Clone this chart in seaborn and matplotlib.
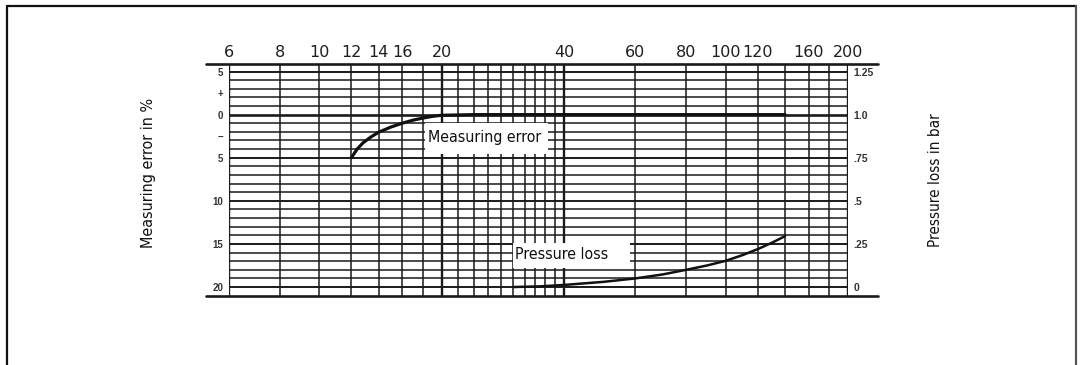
import matplotlib
matplotlib.use("Agg")
import matplotlib.pyplot as plt
import numpy as np
import pandas as pd
import seaborn as sns
from matplotlib import font_manager
from matplotlib.font_manager import FontProperties
from matplotlib.lines import Line2D
from matplotlib.patches import Rectangle

# Flow axis (log scale): labelled ticks and ruled grid positions
flow_ticks = [6, 8, 10, 12, 14, 16, 20, 40, 60, 80, 100, 120, 160, 200]
flow_grid = [6, 8, 10, 12, 14, 16, 18, 20, 22, 24, 26, 28, 30, 32, 34, 36, 38,
             40, 60, 80, 100, 120, 140, 160, 180, 200]

# Left axis: measuring error in %, drawn with + above and - below zero
error_ticks = [5, 2.5, 0, -2.5, -5, -10, -15, -20]
error_tick_labels = ["5", "+", "0", "\u2212", "5", "10", "15", "20"]
error_grid = list(range(-20, 6))

# Right axis: pressure loss in bar
loss_ticks = [1.25, 1.0, 0.75, 0.5, 0.25, 0.0]
loss_tick_labels = ["1.25", "1.0", ".75", ".5", ".25", "0"]

# Measuring error curve
err_flow = [12, 12.4, 12.8, 13.4, 14, 15, 16, 17, 18, 19, 20, 24, 40, 80, 140]
err_value = [-5.0, -4.0, -3.3, -2.6, -2.05, -1.45, -1.0, -0.65, -0.4, -0.2,
             -0.08, 0.0, 0.0, 0.0, 0.0]

# Pressure loss curve
loss_flow = [30, 35, 40, 50, 60, 70, 80, 90, 100, 110, 120, 130, 140]
loss_value = [0.0, 0.004, 0.012, 0.03, 0.05, 0.073, 0.1, 0.125, 0.152, 0.185,
              0.22, 0.257, 0.295]

sns.set_theme(style="white")
plt.rcParams["font.family"] = ["Liberation Sans", "DejaVu Sans"]


def condensed_font():
    """Pick a regular-weight condensed/narrow face if one is installed."""
    picks = []
    for f in font_manager.fontManager.ttflist:
        tag = (f.name + " " + str(f.stretch)).lower()
        if ("narrow" in tag or "condensed" in tag) and f.style == "normal":
            w = f.weight if isinstance(f.weight, int) else 400
            if 300 <= w <= 400 and "extra" not in tag and "ultra" not in tag:
                picks.append(f.fname)
    if picks:
        return picks[0]
    return None


cond_file = condensed_font()


def label_font(size):
    if cond_file:
        return FontProperties(fname=cond_file, size=size)
    return FontProperties(family=["Roboto", "DejaVu Sans"], size=size * 0.86)


W, H = 1081, 365
fig = plt.figure(figsize=(W / 100, H / 100), dpi=100)
fig.patch.set_facecolor("white")

# plot area in pixels: x 229..848, y 64..296
ax = fig.add_axes([229 / W, 1 - 296 / H, (848 - 229) / W, (296 - 64) / H])
ax.set_xscale("log")
ax.set_xlim(flow_grid[0], flow_grid[-1])
ax.set_ylim(-21.04, 5.87)

ink = "#1a1a1a"
heavy_x = {6, 20, 40, 200}
for x in flow_grid:
    ax.axvline(x, color=ink, lw=1.7 if x in heavy_x else 1.1, zorder=1)
for y in error_grid:
    lw = 1.9 if y == 0 else (1.4 if y % 5 == 0 else 1.1)
    ax.axhline(y, color=ink, lw=lw, zorder=1)

err_df = pd.DataFrame({"flow": err_flow, "error": err_value})
sns.lineplot(data=err_df, x="flow", y="error", ax=ax, color="#111111",
             lw=2.3, zorder=3, sort=False)

# right axis shares the vertical ruling: 0..1.25 bar spans -20..+5 %
ax2 = ax.twinx()
lo, hi = ax.get_ylim()
ax2.set_ylim((lo + 20) / 20, (hi + 20) / 20)
loss_df = pd.DataFrame({"flow": loss_flow, "loss": loss_value})
sns.lineplot(data=loss_df, x="flow", y="loss", ax=ax2, color="#111111",
             lw=1.8, zorder=3, sort=False)

for a in (ax, ax2):
    for s in a.spines.values():
        s.set_visible(False)
    a.set_xlabel("")
    a.set_ylabel("")

ax.xaxis.tick_top()
ax.set_xticks(flow_ticks)
ax.set_xticklabels([str(t) for t in flow_ticks], family="DejaVu Sans")
ax.xaxis.set_minor_locator(matplotlib.ticker.NullLocator())
ax.tick_params(axis="x", which="both", length=0, pad=3, labelsize=11.5,
               labelcolor="#1e1e1e")
ax.set_yticks(error_ticks)
ax.set_yticklabels(error_tick_labels)
ax.tick_params(axis="y", length=0, pad=4, labelsize=7, labelcolor="#333333")
for t in ax.get_yticklabels():
    t.set_fontweight("bold")
ax2.set_yticks(loss_ticks)
ax2.set_yticklabels(loss_tick_labels)
ax2.tick_params(axis="y", length=0, pad=4, labelsize=7.5, labelcolor="#333333")
for t in ax2.get_yticklabels():
    t.set_fontweight("bold")
ax2.xaxis.set_visible(False)

# heavy top and bottom rules running past the grid on both sides
x0, x1 = (206 - 229) / 619, (878 - 229) / 619
for yy in (1.0, 0.0):
    ax.add_line(Line2D([x0, x1], [yy, yy], transform=ax.transAxes,
                       color=ink, lw=1.9, clip_on=False, zorder=4))


def white_box(px0, py0, px1, py1):
    ax2.add_patch(Rectangle((px0 / W, 1 - py1 / H), (px1 - px0) / W, (py1 - py0) / H,
                            transform=fig.transFigure, facecolor="white",
                            edgecolor="none", zorder=4))


white_box(425, 123, 548, 154)
white_box(513, 243, 630, 268)
ax2.text(18.55, (-2.6 + 20) / 20, "Measuring error", fontproperties=label_font(11.4),
         va="center", ha="left", color="#111111", zorder=5)
ax2.text(30.3, 0.188, "Pressure loss", fontproperties=label_font(11.4),
         va="center", ha="left", color="#111111", zorder=5)

fig.text(148 / W, 1 - 173 / H, "Measuring error in %", rotation=90,
         fontproperties=label_font(11.5), ha="center", va="center", color="#111111")
fig.text(935 / W, 1 - 180 / H, "Pressure loss in bar", rotation=90,
         fontproperties=label_font(11), ha="center", va="center", color="#111111")

# outer frame
fig.add_artist(Line2D([7.5 / W, 7.5 / W], [0, 1 - 6 / H], color="#111111", lw=1.6))
fig.add_artist(Line2D([7.5 / W, 1076 / W], [1 - 6 / H, 1 - 6 / H], color="#111111", lw=1.6))
fig.add_artist(Line2D([1076 / W, 1076 / W], [0, 1 - 6 / H], color="#555555", lw=1.6))

fig.savefig("out.png", dpi=100, facecolor="white")
